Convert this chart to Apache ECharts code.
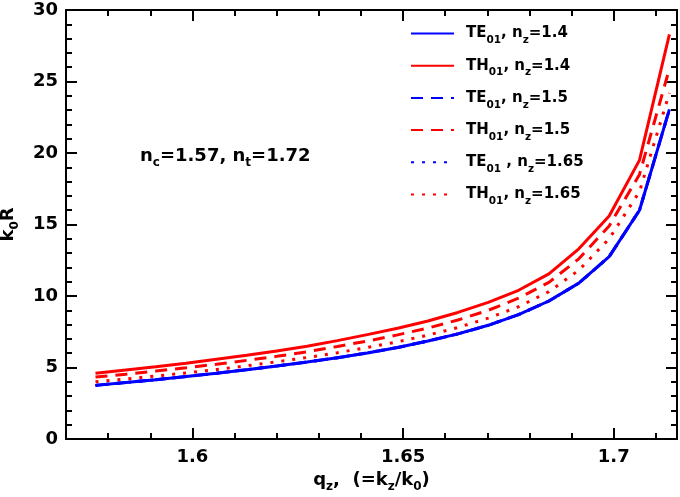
<!DOCTYPE html>
<html><head><meta charset="utf-8">
<script src="https://cdn.jsdelivr.net/npm/echarts@6/dist/echarts.min.js"></script>
<style>html,body{margin:0;padding:0;background:#fff}#c{width:680px;height:497px}</style>
</head><body><div id="c"></div>
<script>
// q_z values (x)
const qz = [1.5770,1.5842,1.5913,1.5985,1.6057,1.6129,1.6200,1.6272,1.6344,1.6415,
            1.6487,1.6559,1.6630,1.6702,1.6774,1.6846,1.6917,1.6989,1.7061,1.7132];
// k0R values
const te14  = [3.75,3.95,4.15,4.37,4.60,4.85,5.10,5.38,5.68,6.02,6.40,6.85,7.35,7.95,8.70,9.65,10.90,12.75,16.00,23.05];
const te15  = [3.75,3.95,4.15,4.37,4.60,4.85,5.10,5.38,5.68,6.02,6.40,6.85,7.35,7.95,8.70,9.65,10.90,12.75,16.00,23.05];
const te165 = [3.75,3.95,4.15,4.37,4.60,4.85,5.10,5.38,5.68,6.02,6.40,6.85,7.35,7.95,8.70,9.65,10.90,12.75,16.00,23.05];
const th14  = [4.60,4.83,5.05,5.30,5.58,5.85,6.15,6.48,6.88,7.30,7.75,8.25,8.85,9.55,10.40,11.55,13.30,15.60,19.50,28.30];
const th15  = [4.33,4.53,4.75,4.98,5.23,5.50,5.78,6.10,6.47,6.85,7.28,7.76,8.32,9.00,9.85,10.95,12.60,14.90,18.50,25.90];
const th165 = [4.00,4.20,4.40,4.62,4.86,5.12,5.40,5.70,6.03,6.40,6.80,7.26,7.80,8.45,9.25,10.30,11.80,14.00,17.30,24.20];
// tick values
const xMajor = [1.6,1.65,1.7];
const xMinor = [1.58,1.59,1.61,1.62,1.63,1.64,1.66,1.67,1.68,1.69,1.71];
const xMin = 1.57, xMax = 1.715;
const yMin = 0, yMax = 30, yStep = 5;

const FONT = 'DejaVu Sans';
const BLUE = '#0000ff', RED = '#ff0000';

const seriesDefs = [
  {name:'TE01, nz=1.4',   data:te14,  color:BLUE, type:'solid',  label:'{g|}{b|TE}{s|01}{b|, n}{s|z}{b|=1.4}', z:3},
  {name:'TH01, nz=1.4',   data:th14,  color:RED,  type:'solid',  label:'{g|}{b|TH}{s|01}{b|, n}{s|z}{b|=1.4}', z:4},
  {name:'TE01, nz=1.5',   data:te15,  color:BLUE, type:[12,8],   label:'{g|}{b|TE}{s|01}{b|, n}{s|z}{b|=1.5}', z:2},
  {name:'TH01, nz=1.5',   data:th15,  color:RED,  type:[12,8],   label:'{g|}{b|TH}{s|01}{b|, n}{s|z}{b|=1.5}', z:4},
  {name:'TE01 , nz=1.65', data:te165, color:BLUE, type:[3,8],    label:'{g|}{b|TE}{s|01}{b| , n}{s|z}{b|=1.65}', z:2},
  {name:'TH01, nz=1.65',  data:th165, color:RED,  type:[3,8],    label:'{g|}{b|TH}{s|01}{b|, n}{s|z}{b|=1.65}', z:4}
];
const labelMap = {};
seriesDefs.forEach(d => labelMap[d.name] = d.label);

const subRich = (base, sub, lh) => ({
  b: {fontFamily: FONT, fontWeight: 'bold', fontSize: base, color: '#000', lineHeight: lh},
  s: {fontFamily: FONT, fontWeight: 'bold', fontSize: sub, color: '#000', verticalAlign: 'bottom'},
  g: {width: 7}
});

const axisLineStyle = {color: '#000', width: 2};
function xAx(pos, vals, len, withLabel) {
  const a = {
    type: 'value', min: xMin, max: xMax, position: pos,
    axisLine: {show: true, onZero: false, lineStyle: axisLineStyle},
    axisTick: {show: true, inside: true, length: len, customValues: vals, lineStyle: {color: '#000', width: 2}},
    axisLabel: {show: false},
    splitLine: {show: false}
  };
  if (withLabel) {
    a.axisLabel = {show: true, customValues: vals, margin: 9, fontFamily: FONT, fontWeight: 'bold', fontSize: 18, color: '#000',
                   formatter: v => String(+v.toFixed(2))};
    a.name = '{b|q}{s|z}{b|,  (=k}{s|z}{b|/k}{s|0}{b|)}';
    a.nameLocation = 'middle';
    a.nameGap = 27;
    a.nameTextStyle = {rich: subRich(18, 12, 26)};
  }
  return a;
}
function yAx(pos, withLabel) {
  const a = {
    type: 'value', min: yMin, max: yMax, interval: yStep, position: pos,
    axisLine: {show: true, onZero: false, lineStyle: axisLineStyle},
    axisTick: {show: true, inside: true, length: 11, lineStyle: {color: '#000', width: 2}},
    minorTick: {show: true, splitNumber: 5, length: 6, lineStyle: {color: '#000', width: 2}},
    axisLabel: {show: withLabel, margin: 8, fontFamily: FONT, fontWeight: 'bold', fontSize: 18, color: '#000'},
    splitLine: {show: false}, minorSplitLine: {show: false}
  };
  if (withLabel) {
    a.name = '{b|k}{s|0}{b|R}';
    a.nameLocation = 'middle';
    a.nameGap = 45;
    a.nameMoveOverlap = false;
    a.nameRotate = 90;
    a.nameTextStyle = {rich: subRich(18, 12, 26)};
  }
  return a;
}

const chart = echarts.init(document.getElementById('c'), null, {renderer: 'canvas'});
chart.setOption({
  animation: false,
  backgroundColor: '#fff',
  grid: {left: 66, right: 3, top: 10, bottom: 58, containLabel: false, outerBoundsMode: 'none'},
  xAxis: [xAx('bottom', xMajor, 11, true), xAx('bottom', xMinor, 6, false),
          xAx('top', xMajor, 11, false), xAx('top', xMinor, 6, false)],
  yAxis: [yAx('left', true), yAx('right', false)],
  legend: {
    orient: 'vertical', left: 405, top: 21, itemWidth: 43, itemHeight: 14, itemGap: 12.2,
    data: seriesDefs.map(d => d.name),
    formatter: n => labelMap[n],
    itemStyle: {opacity: 0},
    textStyle: {rich: subRich(15, 10.5, 25)}
  },
  graphic: [{
    type: 'text', left: 140, top: 147,
    style: {text: '{b|n}{s|c}{b|=1.57, n}{s|t}{b|=1.72}', rich: subRich(18, 12, 26)}
  }],
  series: seriesDefs.map(d => ({
    name: d.name, type: 'line', xAxisIndex: 0, yAxisIndex: 0, z: d.z,
    data: qz.map((x, i) => [x, d.data[i]]),
    symbol: 'none', smooth: false,
    lineStyle: {color: d.color, width: 3, type: d.type, cap: 'butt'},
    itemStyle: {color: d.color}
  }))
});
</script></body></html>
